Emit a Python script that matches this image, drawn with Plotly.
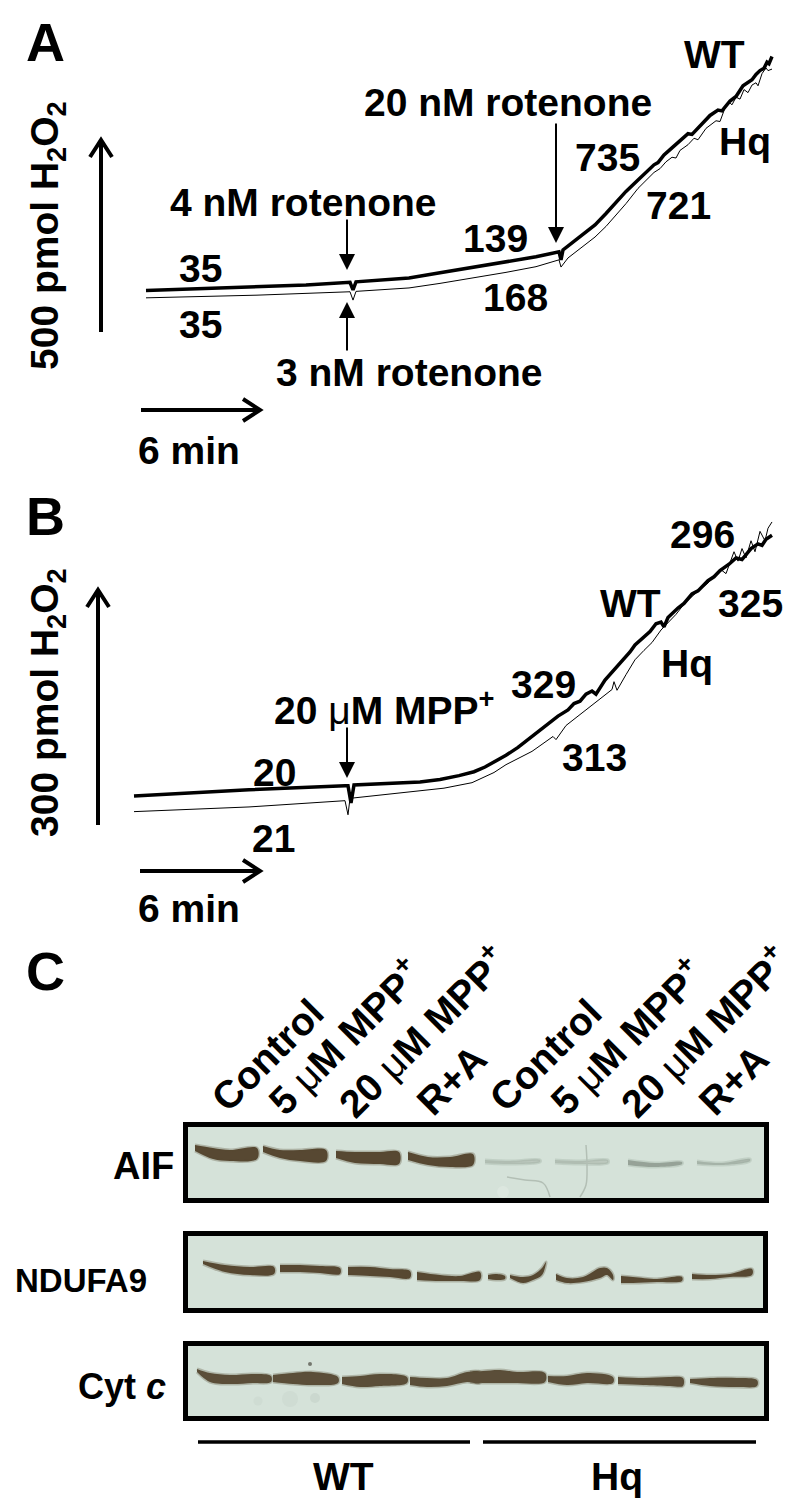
import plotly.graph_objects as go

W, H = 800, 1508
FONT = "Liberation Sans"
INK = "#000000"

# Panel A traces: minutes, pmol H2O2
a_wt_t = [0, 2.5, 5.55, 8, 10.2, 10.35, 10.5, 11.5, 13.15, 14.7, 16.35, 18, 19.5, 20.65, 20.75, 20.85, 21.6, 22, 22.45,
          23, 23.5, 24, 24.6, 25.1, 25.4, 25.6, 25.9, 26.2, 26.7, 27.1, 27.3, 27.7, 28.2, 28.6, 28.8, 29.2, 29.5,
          29.85, 30.1, 30.3, 30.5, 30.7, 30.9, 31.05, 31.15, 31.3]
a_wt_v = [1, 5, 10, 16, 23, 3, 24, 27, 34, 48, 63, 76, 90, 103, 82, 108, 139, 155, 174,
          204, 232, 262, 292, 318, 332, 338, 358, 372, 397, 414, 412, 434, 462, 476, 474, 500, 512,
          540, 548, 556, 570, 580, 586, 602, 598, 617]
a_hq_t = [0, 5.55, 10.2, 10.35, 10.5, 13.15, 14.7, 16.35, 18, 19.5, 20.65, 20.75, 21.1, 22.45, 23, 23.5, 24, 24.6, 25,
          25.4, 25.7, 26, 26.3, 26.5, 26.7, 27.1, 27.4, 27.6, 28, 28.2, 28.5, 28.7, 29, 29.2, 29.3, 29.5, 29.7, 29.9,
          30.1, 30.3, 30.5, 30.6, 30.8, 31, 31.1, 31.3]
a_hq_v = [-18, -11, -2, -24, -1, 8, 20, 34, 49, 64, 82, 63, 87, 142, 170, 200, 230, 270, 290,
          312, 322, 340, 352, 350, 370, 385, 402, 398, 428, 436, 448, 446, 489, 495, 490, 510, 505, 530,
          522, 542, 548, 540, 572, 587, 580, 584]

# Panel B traces: minutes, pmol H2O2
b_wt_t = [0, 5.75, 10.55, 10.7, 10.85, 11, 14.3, 15.3, 16.25, 17, 17.55, 18.6, 19.2, 19.9, 20.5, 21.2, 21.7, 22, 22.3, 22.6,
          22.9, 23.1, 23.55, 24, 24.4, 24.8, 25.05, 25.5, 25.8, 26.1, 26.35, 26.5, 26.7, 27.2, 27.5, 27.9, 28.2, 28.7,
          29, 29.3, 29.75, 30.1, 30.4, 30.85, 31.2, 31.4, 31.6, 31.9]
b_wt_v = [0, 8, 13, 13, -9, 14, 18, 21, 26, 31, 37, 52, 62, 76, 88, 102, 110, 118, 121, 130,
          134, 130, 148, 161, 174, 184, 193, 204, 210, 220, 222, 216, 228, 240, 246, 258, 262, 275,
          280, 288, 296, 304, 302, 316, 322, 320, 328, 333]
b_hq_t = [0, 5.75, 10.55, 10.7, 10.8, 14.3, 15.5, 16.9, 18, 18.6, 19.2, 19.9, 20.4, 20.95, 21.1, 21.6, 22, 22.5, 23, 23.4, 23.9,
          24, 24.15, 24.6, 25.05, 25.5, 25.9, 26.35, 26.5, 26.8, 27.1, 27.5, 28.2, 28.7, 29.3, 29.6, 30, 30.2, 30.4,
          30.6, 30.85, 31.05, 31.3, 31.55, 31.7, 31.9]
b_hq_v = [-20, -14, -6, -24, -3, 6, 10, 17, 30, 40, 48, 57, 66, 76, 72, 90, 98, 108, 118, 126, 136,
          146, 135, 155, 174, 186, 196, 212, 216, 224, 232, 245, 262, 272, 290, 284, 312, 300, 316,
          304, 326, 312, 338, 326, 342, 350]

# Panel C bands: gel positions per lane
aif_x = [[195, 213, 230, 257], [263, 280, 300, 326], [336, 355, 380, 399], [408, 428, 450, 473]]
aif_top = [[1145, 1148, 1150, 1148], [1146, 1150, 1150, 1150], [1151, 1152, 1152, 1152], [1152, 1157, 1157, 1154]]
aif_bottom = [[1151, 1159, 1161, 1159], [1152, 1158, 1161, 1161], [1158, 1163, 1164, 1164], [1160, 1165, 1167, 1165]]

aif_faint_x = [[485, 510, 540], [555, 580, 608], [628, 655, 682], [697, 722, 750]]
aif_faint_top = [[1160, 1161, 1160], [1160, 1161, 1160], [1160, 1163, 1162], [1161, 1163, 1159]]
aif_faint_bottom = [[1163, 1164, 1162], [1163, 1164, 1163], [1165, 1167, 1164], [1164, 1165, 1161]]
aif_faint_color = ["#bcc8be", "#bcc8be", "#97a298", "#adb9af"]

smudge_x = [[507, 525, 543, 550], [586, 587, 586, 580]]
smudge_y = [[1177, 1180, 1183, 1197], [1145, 1165, 1185, 1197]]

ndufa9_x = [[203, 225, 250, 274], [280, 300, 320, 340], [348, 370, 390, 410], [417, 440, 460, 480],
            [488, 496, 505], [510, 523, 533, 542, 546], [556, 567, 583, 600, 607, 613],
            [621, 633, 657, 682], [692, 710, 730, 752]]
ndufa9_top = [[1261, 1265, 1267, 1267], [1265, 1265, 1266, 1268], [1267, 1267, 1269, 1271], [1272, 1275, 1276, 1272],
              [1275, 1274, 1276], [1275, 1277, 1275, 1268, 1262], [1274, 1278, 1277, 1268, 1268, 1275],
              [1276, 1277, 1279, 1277], [1274, 1275, 1274, 1269]]
ndufa9_bottom = [[1264, 1272, 1275, 1274], [1272, 1272, 1273, 1274], [1275, 1276, 1277, 1278], [1280, 1281, 1281, 1280],
                 [1279, 1280, 1279], [1278, 1283, 1280, 1275, 1263], [1280, 1283, 1282, 1278, 1275, 1280],
                 [1283, 1283, 1282, 1281], [1279, 1279, 1277, 1275]]

cytc_x = [[197, 210, 230, 253, 271], [273, 293, 313, 338], [342, 360, 380, 407], [410, 427, 447, 467, 480],
          [470, 483, 500, 517, 545], [548, 567, 587, 613], [618, 643, 670, 683], [690, 710, 737, 757]]
cytc_top = [[1369, 1373, 1375, 1374, 1376], [1375, 1373, 1372, 1377], [1377, 1376, 1374, 1377], [1377, 1378, 1378, 1372, 1372],
            [1372, 1371, 1370, 1372, 1373], [1376, 1376, 1373, 1377], [1377, 1378, 1377, 1378], [1379, 1378, 1378, 1380]]
cytc_bottom = [[1372, 1382, 1384, 1383, 1382], [1382, 1384, 1385, 1383], [1384, 1387, 1386, 1383], [1385, 1387, 1386, 1382, 1383],
               [1382, 1383, 1383, 1383, 1382], [1382, 1385, 1383, 1383], [1384, 1385, 1386, 1386], [1383, 1386, 1387, 1386]]

# specks on the membrane
speck_x = [310, 258, 290, 315, 503]
speck_y = [1364, 1401, 1399, 1398, 1192]
speck_size = [4, 9, 16, 10, 12]
speck_color = ["#4a4a40", "rgba(190,202,192,0.35)", "rgba(190,202,192,0.35)", "rgba(180,192,182,0.4)", "rgba(235,242,236,0.5)"]

mu = "<span style='font-weight:normal'>μ</span>"
lane_labels = ["Control", f"5 {mu}M MPP<sup>+</sup>", f"20 {mu}M MPP<sup>+</sup>", "R+A"]


def px(x):
    return x / W


def py(y):
    return 1 - y / H


def label(text, x, y, size=39, angle=0):
    return dict(text=text, x=px(x), y=py(y), xref="paper", yref="paper", showarrow=False,
                xanchor="center", yanchor="middle", textangle=angle,
                font=dict(family=FONT, size=size, color=INK, weight=700))


def thin_arrow(x, tip_y, length):
    # length > 0 points down, length < 0 points up
    return dict(text="", x=px(x), y=py(tip_y), xref="paper", yref="paper", ax=0, ay=-length,
                showarrow=True, arrowhead=2, arrowsize=1.6, arrowwidth=2, arrowcolor=INK,
                standoff=0, startstandoff=0)


def open_arrow(x0, y0, x1, y1):
    # long scale arrows with a V head, drawn in paper space
    path = f"M{px(x0)},{py(y0)} L{px(x1)},{py(y1)}"
    if x0 == x1:
        d = 17 if y1 < y0 else -17
        path += f" M{px(x1 - 11)},{py(y1 + d)} L{px(x1)},{py(y1)} L{px(x1 + 11)},{py(y1 + d)}"
    else:
        path += f" M{px(x1 - 17)},{py(y1 - 11)} L{px(x1)},{py(y1)} L{px(x1 - 17)},{py(y1 + 11)}"
    return dict(type="path", path=path, xref="paper", yref="paper", line=dict(color=INK, width=4))


def band(x, top, bottom, color="#574832", halo="rgba(87,72,50,0.3)"):
    return go.Scatter(x=x + x[::-1], y=top + bottom[::-1], mode="lines", fill="toself", fillcolor=color,
                      line=dict(color=halo, width=3, shape="spline"), xaxis="x3", yaxis="y3",
                      hoverinfo="skip")


def frame(x0, x1, y0, y1):
    return dict(type="rect", x0=x0, x1=x1, y0=y0, y1=y1, xref="x3", yref="y3", layer="below",
                fillcolor="#d5e2d9", line=dict(color=INK, width=5))


fig = go.Figure()

fig.add_trace(go.Scatter(x=a_hq_t, y=a_hq_v, mode="lines", line=dict(color=INK, width=1), xaxis="x", yaxis="y"))
fig.add_trace(go.Scatter(x=a_wt_t, y=a_wt_v, mode="lines", line=dict(color=INK, width=3.5), xaxis="x", yaxis="y"))
fig.add_trace(go.Scatter(x=b_hq_t, y=b_hq_v, mode="lines", line=dict(color=INK, width=1), xaxis="x2", yaxis="y2"))
fig.add_trace(go.Scatter(x=b_wt_t, y=b_wt_v, mode="lines", line=dict(color=INK, width=3.5), xaxis="x2", yaxis="y2"))

fig.add_trace(go.Scatter(x=speck_x, y=speck_y, mode="markers", xaxis="x3", yaxis="y3",
                         marker=dict(size=speck_size, color=speck_color, line=dict(width=0))))
for x, t, b in zip(aif_x, aif_top, aif_bottom):
    fig.add_trace(band(x, t, b))
for x, t, b, c in zip(aif_faint_x, aif_faint_top, aif_faint_bottom, aif_faint_color):
    fig.add_trace(band(x, t, b, color=c, halo="rgba(150,165,152,0.3)"))
for x, y in zip(smudge_x, smudge_y):
    fig.add_trace(go.Scatter(x=x, y=y, mode="lines", line=dict(color="#b3bfb5", width=1.5, shape="spline"),
                             xaxis="x3", yaxis="y3"))
for x, t, b in zip(ndufa9_x, ndufa9_top, ndufa9_bottom):
    fig.add_trace(band(x, t, b))
for x, t, b in zip(cytc_x, cytc_top, cytc_bottom):
    fig.add_trace(band(x, t, b, color="#5b4e39", halo="rgba(91,78,57,0.3)"))

annotations = [
    label("A", 45, 42, 54), label("B", 45, 516, 54), label("C", 45, 971, 54),
    # panel A
    label("WT", 714, 54), label("Hq", 745, 142), label("20 nM rotenone", 508, 103),
    label("735", 607, 158), label("721", 678, 205), label("4 nM rotenone", 303, 202),
    label("139", 495, 238), label("35", 200, 268), label("35", 200, 325), label("168", 515, 298),
    label("3 nM rotenone", 410, 372), label("6 min", 189, 450),
    label("500 pmol H<sub>2</sub>O<sub>2</sub>", 47, 236, 39, -90),
    thin_arrow(347, 270, 52), thin_arrow(347, 302, -50), thin_arrow(556, 243, 121),
    # panel B
    label("296", 702, 534), label("WT", 630, 603), label("325", 750, 603), label("329", 543, 684),
    label("Hq", 687, 663), label(f"20 {mu}M MPP<sup>+</sup>", 384, 707),
    label("313", 594, 757), label("20", 274, 772), label("21", 273, 838), label("6 min", 189, 908),
    label("300 pmol H<sub>2</sub>O<sub>2</sub>", 47, 703, 39, -90),
    thin_arrow(347, 778, 52),
    # panel C
    label("AIF", 143, 1166, 38), label("NDUFA9", 81, 1280, 33), label("Cyt <i>c</i>", 122, 1386, 36),
    label("WT", 343, 1476), label("Hq", 617, 1476),
]
lane_x = [267, 343, 421, 451, 545, 625, 703, 733]
lane_y = [1055, 1035, 1030, 1080, 1055, 1035, 1030, 1080]
for i, (x, y) in enumerate(zip(lane_x, lane_y)):
    annotations.append(label(lane_labels[i % 4], x, y, 39, -45))

shapes = [
    open_arrow(101, 332, 101, 140), open_arrow(141, 410, 260, 410),
    open_arrow(98, 825, 98, 590), open_arrow(140, 871, 260, 871),
    frame(185.5, 766.5, 1124.5, 1200.5), frame(185.5, 765.5, 1233.5, 1310.5), frame(185.5, 766.5, 1343.5, 1418.5),
    dict(type="line", x0=198, x1=470, y0=1442, y1=1442, xref="x3", yref="y3", line=dict(color=INK, width=3.5)),
    dict(type="line", x0=483, x1=756, y0=1442, y1=1442, xref="x3", yref="y3", line=dict(color=INK, width=3.5)),
]

hidden = dict(visible=False, fixedrange=True)
fig.update_layout(
    width=W, height=H, autosize=False, showlegend=False, margin=dict(l=0, r=0, t=0, b=0),
    paper_bgcolor="white", plot_bgcolor="rgba(0,0,0,0)",
    xaxis=dict(hidden, domain=[0, 1], range=[-7.3, 32.7]),
    yaxis=dict(hidden, domain=[py(480), 1], range=[-497.4, 765.8]),
    xaxis2=dict(hidden, domain=[0, 1], range=[-6.7, 33.3]),
    yaxis2=dict(hidden, domain=[py(920), py(480)], range=[-158.4, 403.6]),
    xaxis3=dict(hidden, domain=[0, 1], range=[0, W]),
    yaxis3=dict(hidden, domain=[0, py(920)], range=[H, 920]),
    annotations=annotations, shapes=shapes,
)

fig.write_html("out.html", config={"displayModeBar": False},
               post_script="document.body.style.margin='0';")
